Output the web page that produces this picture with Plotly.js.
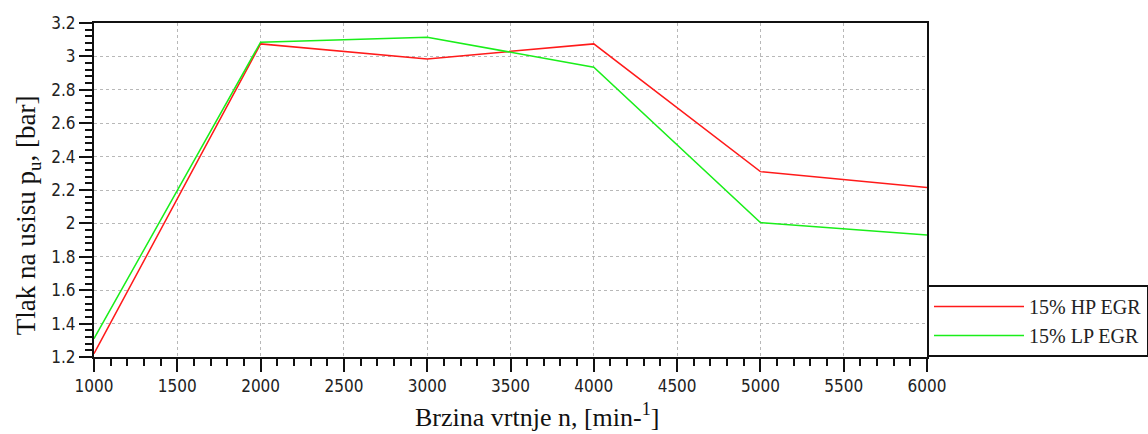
<!DOCTYPE html>
<html>
<head>
<meta charset="utf-8">
<script src="https://cdn.plot.ly/plotly-3.0.1.min.js"></script>
<style>html,body{margin:0;padding:0;background:#fff;}#chart{width:1148px;height:434px;}</style>
</head>
<body>
<div id="chart"></div>
<script>
const speed = [1000, 2000, 3000, 4000, 5000, 6000];
const hpEgr = [1.22, 3.075, 2.985, 3.075, 2.31, 2.215];
const lpEgr = [1.31, 3.085, 3.115, 2.935, 2.005, 1.93];
const seriesNames = ["15% HP EGR", "15% LP EGR"];
const xTitle = "Brzina vrtnje n, [min-<sup>1</sup>]";
const yTitle = "Tlak na usisu p<sub>u</sub>, [bar]";

const traces = [
  {x: speed, y: hpEgr, name: seriesNames[0], type: "scatter", mode: "lines",
   line: {color: "#ff1a1a", width: 1.5}},
  {x: speed, y: lpEgr, name: seriesNames[1], type: "scatter", mode: "lines",
   line: {color: "#1aee1a", width: 1.5}}
];

const tickFont = {family: "DejaVu Sans Condensed, DejaVu Sans, sans-serif", size: 17, color: "#222"};
const titleFontX = {family: "Liberation Serif, serif", size: 26, color: "#111"};
const titleFontY = {family: "Liberation Serif, serif", size: 27, color: "#111"};

const layout = {
  width: 1148, height: 434,
  margin: {l: 94, r: 221, t: 23, b: 77, autoexpand: false},
  paper_bgcolor: "#fff", plot_bgcolor: "#fff",
  showlegend: true,
  legend: {
    x: 1, xanchor: "left", y: 0, yanchor: "bottom",
    bordercolor: "#111", borderwidth: 2, bgcolor: "#fff",
    font: {family: "Liberation Serif, serif", size: 20, color: "#222"},
    itemwidth: 90, tracegroupgap: 0
  },
  xaxis: {
    range: [1000, 6000], tick0: 1000, dtick: 500,
    showline: true, linecolor: "#111", linewidth: 2, mirror: true,
    ticks: "outside", ticklen: 13, tickwidth: 2, tickcolor: "#111",
    minor: {dtick: 100, ticks: "outside", ticklen: 7, tickwidth: 2, tickcolor: "#111"},
    showgrid: true, gridcolor: "#b8b8b8", griddash: "dot", gridwidth: 1,
    zeroline: false, tickfont: tickFont
  },
  yaxis: {
    range: [1.2, 3.2], tick0: 1.2, dtick: 0.2,
    showline: true, linecolor: "#111", linewidth: 2, mirror: true,
    ticks: "outside", ticklen: 13, tickwidth: 2, tickcolor: "#111",
    minor: {dtick: 0.04, ticks: "outside", ticklen: 7, tickwidth: 2, tickcolor: "#111"},
    showgrid: true, gridcolor: "#b8b8b8", griddash: "dot", gridwidth: 1,
    zeroline: false, tickfont: tickFont
  },
  annotations: [
    {text: xTitle, xref: "paper", yref: "paper", x: 0.532, y: -0.176,
     xanchor: "center", yanchor: "middle", showarrow: false, font: titleFontX},
    {text: yTitle, xref: "paper", yref: "paper", x: -0.079, y: 0.425,
     xanchor: "center", yanchor: "middle", showarrow: false, textangle: -90, font: titleFontY}
  ]
};

Plotly.newPlot("chart", traces, layout, {displayModeBar: false, staticPlot: true});
</script>
</body>
</html>
